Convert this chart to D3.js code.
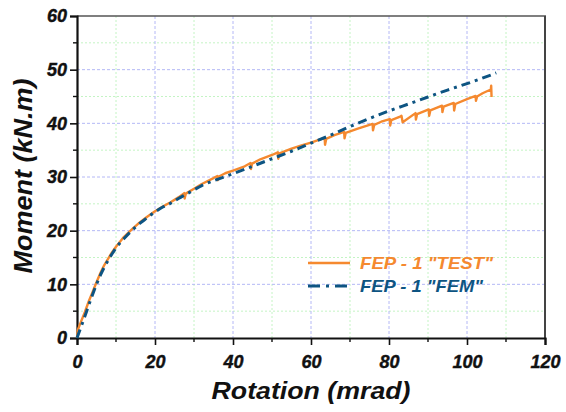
<!DOCTYPE html>
<html><head><meta charset="utf-8">
<script src="https://cdn.jsdelivr.net/npm/d3@7"></script>
<style>body{margin:0;background:#fff}svg{display:block}</style>
</head><body>
<svg id="c" width="566" height="412"></svg>
<script>
const xTicks = [0, 20, 40, 60, 80, 100, 120];
const yTicks = [0, 10, 20, 30, 40, 50, 60];
const xMinor = [10, 30, 50, 70, 90, 110];
const yMinor = [5, 15, 25, 35, 45, 55];
const seriesNames = ['FEP - 1 "TEST"', 'FEP - 1 "FEM"'];

const femX = [0,1,2,3,4,5,6,7,8,9,10,11,12,14,16,18,20,22,24,26,28,30,32,35,40,45,50,55,60,65,70,75,80,85,90,95,100,105,107.5];
const femY = [0,2.0,4.0,6.1,8.1,10.0,11.7,13.2,14.5,15.7,16.8,17.7,18.5,20.0,21.3,22.4,23.5,24.4,25.1,26.0,26.8,27.6,28.4,29.3,30.6,32.0,33.4,34.8,36.3,37.8,39.4,40.9,42.3,43.6,44.9,46.2,47.4,48.7,49.4];

const testX = [0,0.2,1,2,3,4,5,6,7,8,9,10,12,14,16,18,20,22,24,26,27.5,27.6,27.9,30,32,35,36,36.1,36.4,38,40,43,44.5,44.6,44.9,47,50,51.5,51.6,51.9,55,58,60,62,63.5,63.6,63.9,66,68.5,68.6,68.9,72,75.8,75.9,76.2,78,80.2,80.3,80.6,83,83.2,83.5,86.8,86.9,87.2,90.2,90.3,90.6,93.6,93.7,94,96.6,96.7,97,100,102.2,102.3,102.6,104,106.1,106.2,106.3];
const testY = [0,1.5,3.0,4.8,6.8,8.6,10.4,12.1,13.6,14.8,16.0,17.0,18.8,20.2,21.5,22.6,23.6,24.5,25.3,26.2,27.0,26.0,26.9,27.8,28.7,29.8,30.2,29.4,30.1,30.7,31.2,32.0,32.6,31.5,32.5,33.3,34.1,34.6,33.4,34.4,35.3,36.0,36.4,36.9,37.3,36.0,37.1,37.8,38.4,37.2,38.2,39.0,39.9,38.7,39.7,40.3,40.8,39.6,40.6,41.3,41.4,40.2,41.9,40.7,41.7,42.6,41.4,42.4,43.3,42.1,43.1,43.8,42.4,43.6,44.5,45.1,44.2,45.0,45.6,46.3,47.0,44.9];

const colors = ['#f5892f', '#0d5482'];
const svg = d3.select('#c');
const L = 77, R = 545, T = 16, B = 338;
const x = d3.scaleLinear().domain([0, 120]).range([L, R]);
const y = d3.scaleLinear().domain([0, 60]).range([B, T]);

// grid
const g = svg.append('g');
g.selectAll('.gxm').data(xMinor).join('line').attr('x1', d => x(d)).attr('x2', d => x(d)).attr('y1', T).attr('y2', B)
  .attr('stroke', '#c4f4c4').attr('stroke-width', 1).attr('stroke-dasharray', '2,2');
g.selectAll('.gym').data(yMinor).join('line').attr('y1', d => y(d)).attr('y2', d => y(d)).attr('x1', L).attr('x2', R)
  .attr('stroke', '#c4f4c4').attr('stroke-width', 1).attr('stroke-dasharray', '2,2');
g.selectAll('.gx').data(xTicks.slice(1, -1)).join('line').attr('x1', d => x(d)).attr('x2', d => x(d)).attr('y1', T).attr('y2', B)
  .attr('stroke', '#b4b8f6').attr('stroke-width', 1).attr('stroke-dasharray', '3,2');
g.selectAll('.gy').data(yTicks.slice(1, -1)).join('line').attr('y1', d => y(d)).attr('y2', d => y(d)).attr('x1', L).attr('x2', R)
  .attr('stroke', '#b4b8f6').attr('stroke-width', 1).attr('stroke-dasharray', '3,2');

// frame top/right
svg.append('line').attr('x1', L).attr('x2', R + 1).attr('y1', T).attr('y2', T).attr('stroke', '#555').attr('stroke-width', 1.6);
svg.append('line').attr('x1', R).attr('x2', R).attr('y1', T).attr('y2', B).attr('stroke', '#444').attr('stroke-width', 2);

// axes
const fontTick = 'bold italic 18px "Liberation Sans", Arial, sans-serif';
const xAxis = d3.axisBottom(x).tickValues(xTicks).tickSize(7).tickPadding(10).tickFormat(d3.format('d'));
const yAxis = d3.axisLeft(y).tickValues(yTicks).tickSize(7).tickPadding(3).tickFormat(d3.format('d'));
const gx = svg.append('g').attr('transform', `translate(0,${B})`).call(xAxis);
const gy = svg.append('g').attr('transform', `translate(${L},0)`).call(yAxis);
[gx, gy].forEach(a => {
  a.select('.domain').attr('stroke', '#111').attr('stroke-width', 2.2);
  a.selectAll('.tick line').attr('stroke', '#111').attr('stroke-width', 1.6);
  a.selectAll('.tick text').style('font', fontTick).attr('fill', '#111').attr('stroke', '#111').attr('stroke-width', 0.4);
});
gx.selectAll('.tick text').attr('dy', '0.71em');
gx.append('g').selectAll('line').data(xMinor).join('line').attr('x1', d => x(d)).attr('x2', d => x(d)).attr('y1', 0).attr('y2', 4).attr('stroke', '#111').attr('stroke-width', 1.4);
gy.append('g').selectAll('line').data(yMinor).join('line').attr('y1', d => y(d)).attr('y2', d => y(d)).attr('x1', 0).attr('x2', -4).attr('stroke', '#111').attr('stroke-width', 1.4);

// lines
const line = d3.line().x(d => x(d[0])).y(d => y(d[1]));
const testData = testX.map((v, i) => [v, testY[i]]);
const femData = femX.map((v, i) => [v, femY[i]]);
svg.append('path').datum(testData).attr('d', line).attr('fill', 'none').attr('stroke', colors[0]).attr('stroke-width', 2.4).attr('stroke-linejoin', 'round');
svg.append('path').datum(femData).attr('d', d3.line().curve(d3.curveMonotoneX).x(d => x(d[0])).y(d => y(d[1])))
  .attr('fill', 'none').attr('stroke', colors[1]).attr('stroke-width', 3).attr('stroke-dasharray', '9,5,3,5');

// titles
svg.append('text').attr('x', (L + R) / 2).attr('y', 399).attr('text-anchor', 'middle')
  .attr('textLength', 199).attr('lengthAdjust', 'spacingAndGlyphs')
  .style('font', 'bold italic 23px "Liberation Sans", Arial, sans-serif').attr('fill', '#111').text('Rotation (mrad)');
svg.append('text').attr('transform', `translate(32,${(T + B) / 2 - 1}) rotate(-90)`).attr('text-anchor', 'middle')
  .attr('textLength', 195).attr('lengthAdjust', 'spacingAndGlyphs')
  .style('font', 'bold italic 26px "Liberation Sans", Arial, sans-serif').attr('fill', '#111').text('Moment  (kN.m)');

// legend
const leg = svg.append('g');
const legY = [263, 286];
const legDash = [null, '12,6,3,6'];
const legLen = [133, 123];
seriesNames.forEach((n, i) => {
  leg.append('line').attr('x1', 308).attr('x2', 350).attr('y1', legY[i]).attr('y2', legY[i])
    .attr('stroke', colors[i]).attr('stroke-width', i ? 3 : 2.4).attr('stroke-dasharray', legDash[i]);
  leg.append('text').attr('x', 360).attr('y', legY[i] + 6).attr('fill', colors[i])
    .attr('textLength', legLen[i]).attr('lengthAdjust', 'spacingAndGlyphs')
    .style('font', 'bold italic 17px "Liberation Sans", Arial, sans-serif').text(n);
});
</script>
</body></html>
